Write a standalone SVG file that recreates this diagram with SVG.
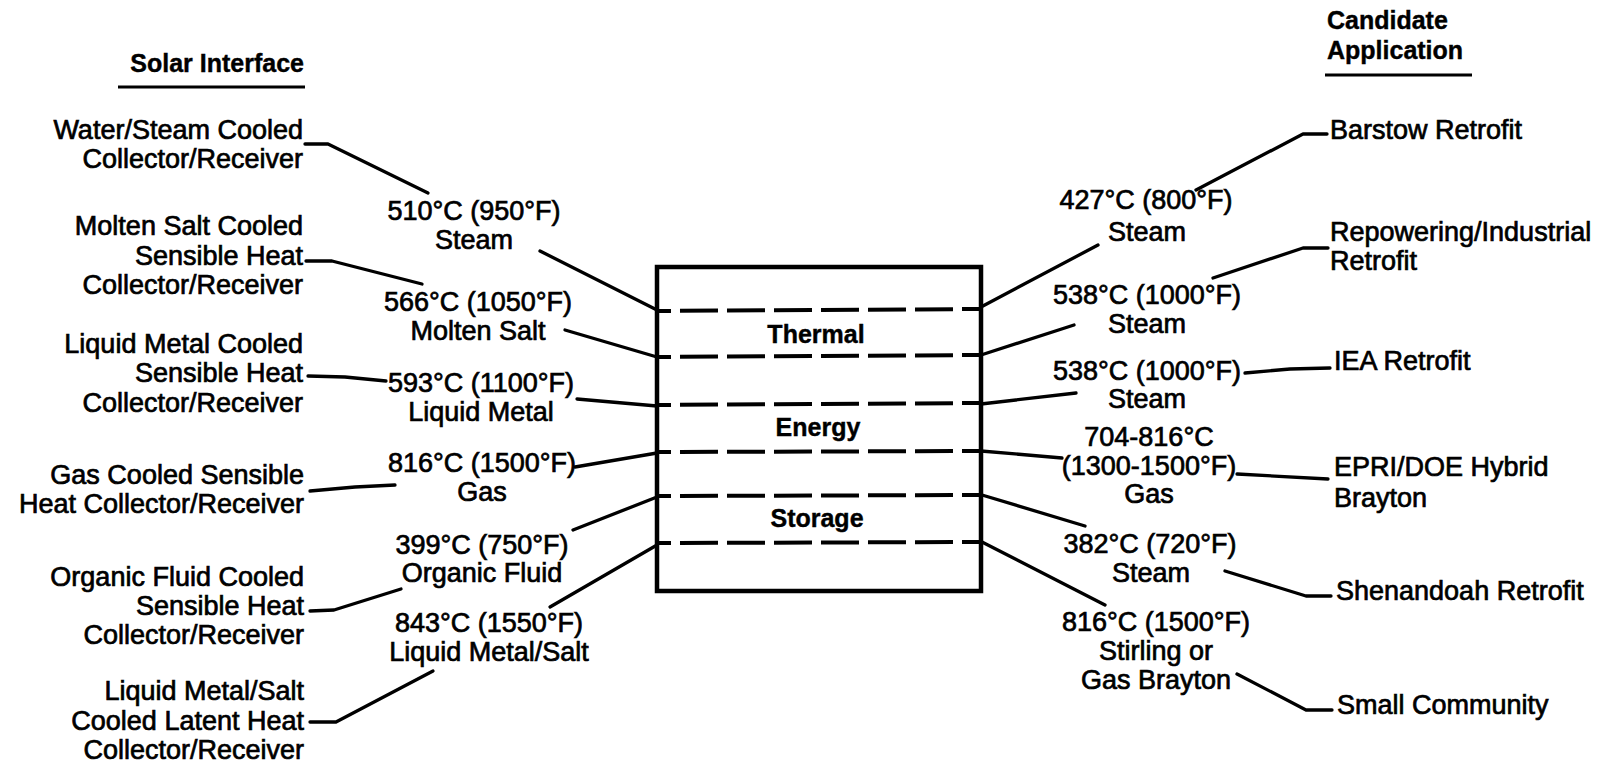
<svg xmlns="http://www.w3.org/2000/svg" width="1609" height="764" viewBox="0 0 1609 764">
<style>
text{font-family:"Liberation Sans",Arial,Helvetica,sans-serif;fill:#000}
.t{font-size:27px;stroke:#000;stroke-width:0.7}
.h{font-size:25px;font-weight:bold;stroke:#000;stroke-width:0.4}
.e{text-anchor:end}
.m{text-anchor:middle}
.conn{fill:none;stroke:#000;stroke-width:3.3;stroke-linejoin:round;stroke-linecap:round}
.ul{stroke:#000;stroke-width:3}
.dash{stroke:#000;stroke-width:4;stroke-dasharray:38 9}
.box{fill:none;stroke:#000;stroke-width:4.5}
</style>
<rect width="1609" height="764" fill="#fff"/>

<!-- Headings -->
<g id="hdr-solar">
<text class="h e" x="304" y="72">Solar Interface</text>
<line class="ul" x1="118" y1="87" x2="305" y2="87"/>
</g>
<g id="hdr-app">
<text class="h" x="1327" y="29">Candidate</text>
<text class="h" x="1327" y="59">Application</text>
<line class="ul" x1="1325" y1="75" x2="1472" y2="75"/>
</g>

<!-- Left: solar interfaces -->
<g id="si-water">
<text class="t e" x="303" y="139">Water/Steam Cooled</text>
<text class="t e" x="303" y="168">Collector/Receiver</text>
</g>
<g id="si-moltensalt">
<text class="t e" x="303" y="235">Molten Salt Cooled</text>
<text class="t e" x="303" y="265">Sensible Heat</text>
<text class="t e" x="303" y="294">Collector/Receiver</text>
</g>
<g id="si-liquidmetal">
<text class="t e" x="303" y="353">Liquid Metal Cooled</text>
<text class="t e" x="303" y="382">Sensible Heat</text>
<text class="t e" x="303" y="412">Collector/Receiver</text>
</g>
<g id="si-gas">
<text class="t e" x="304" y="484">Gas Cooled Sensible</text>
<text class="t e" x="304" y="513">Heat Collector/Receiver</text>
</g>
<g id="si-organic">
<text class="t e" x="304" y="586">Organic Fluid Cooled</text>
<text class="t e" x="304" y="615">Sensible Heat</text>
<text class="t e" x="304" y="644">Collector/Receiver</text>
</g>
<g id="si-latent">
<text class="t e" x="304" y="700">Liquid Metal/Salt</text>
<text class="t e" x="304" y="730">Cooled Latent Heat</text>
<text class="t e" x="304" y="759">Collector/Receiver</text>
</g>

<!-- Left middle: temperatures -->
<g id="tl-1">
<text class="t m" x="474" y="220">510°C (950°F)</text>
<text class="t m" x="474" y="249">Steam</text>
</g>
<g id="tl-2">
<text class="t m" x="478" y="311">566°C (1050°F)</text>
<text class="t m" x="478" y="340">Molten Salt</text>
</g>
<g id="tl-3">
<text class="t m" x="481" y="392">593°C (1100°F)</text>
<text class="t m" x="481" y="421">Liquid Metal</text>
</g>
<g id="tl-4">
<text class="t m" x="482" y="472">816°C (1500°F)</text>
<text class="t m" x="482" y="501">Gas</text>
</g>
<g id="tl-5">
<text class="t m" x="482" y="554">399°C (750°F)</text>
<text class="t m" x="482" y="582">Organic Fluid</text>
</g>
<g id="tl-6">
<text class="t m" x="489" y="632">843°C (1550°F)</text>
<text class="t m" x="489" y="661">Liquid Metal/Salt</text>
</g>

<!-- Central storage box -->
<g id="storage-box">
<rect class="box" x="657" y="267" width="324" height="324"/>
<line class="dash" x1="657" y1="311" x2="981" y2="309" stroke-dashoffset="24"/>
<line class="dash" x1="657" y1="357" x2="981" y2="355" stroke-dashoffset="24"/>
<line class="dash" x1="657" y1="405" x2="981" y2="403" stroke-dashoffset="24"/>
<line class="dash" x1="657" y1="452" x2="981" y2="451" stroke-dashoffset="24"/>
<line class="dash" x1="657" y1="496" x2="981" y2="495" stroke-dashoffset="24"/>
<line class="dash" x1="657" y1="543" x2="981" y2="542" stroke-dashoffset="24"/>
<text class="h m" x="816" y="343">Thermal</text>
<text class="h m" x="818" y="436">Energy</text>
<text class="h m" x="817" y="527">Storage</text>
</g>

<!-- Right middle: temperatures -->
<g id="tr-1">
<text class="t m" x="1146" y="209">427°C (800°F)</text>
<text class="t m" x="1147" y="241">Steam</text>
</g>
<g id="tr-2">
<text class="t m" x="1147" y="304">538°C (1000°F)</text>
<text class="t m" x="1147" y="333">Steam</text>
</g>
<g id="tr-3">
<text class="t m" x="1147" y="380">538°C (1000°F)</text>
<text class="t m" x="1147" y="408">Steam</text>
</g>
<g id="tr-4">
<text class="t m" x="1149" y="446">704-816°C</text>
<text class="t m" x="1149" y="475">(1300-1500°F)</text>
<text class="t m" x="1149" y="503">Gas</text>
</g>
<g id="tr-5">
<text class="t m" x="1150" y="553">382°C (720°F)</text>
<text class="t m" x="1151" y="582">Steam</text>
</g>
<g id="tr-6">
<text class="t m" x="1156" y="631">816°C (1500°F)</text>
<text class="t m" x="1156" y="660">Stirling or</text>
<text class="t m" x="1156" y="689">Gas Brayton</text>
</g>

<!-- Right: candidate applications -->
<g id="app-barstow"><text class="t" x="1330" y="139">Barstow Retrofit</text></g>
<g id="app-repowering">
<text class="t" x="1330" y="241">Repowering/Industrial</text>
<text class="t" x="1330" y="270">Retrofit</text>
</g>
<g id="app-iea"><text class="t" x="1334" y="370">IEA Retrofit</text></g>
<g id="app-epri">
<text class="t" x="1334" y="476">EPRI/DOE Hybrid</text>
<text class="t" x="1334" y="507">Brayton</text>
</g>
<g id="app-shenandoah"><text class="t" x="1336" y="600">Shenandoah Retrofit</text></g>
<g id="app-community"><text class="t" x="1337" y="714">Small Community</text></g>

<!-- Connectors -->
<g id="connectors">
<polyline class="conn" points="305,144 328,144 428,193"/>
<polyline class="conn" points="540,251 657,310"/>
<polyline class="conn" points="306,261 332,261 422,284"/>
<polyline class="conn" points="565,330 657,357"/>
<polyline class="conn" points="308,376 345,377 386,381"/>
<polyline class="conn" points="577,399 657,406"/>
<polyline class="conn" points="575,467 657,453"/>
<polyline class="conn" points="310,491 355,487 395,485"/>
<polyline class="conn" points="573,530 657,497"/>
<polyline class="conn" points="310,611 334,610 401,589"/>
<polyline class="conn" points="550,607 657,545"/>
<polyline class="conn" points="310,722 336,722 433,671"/>

<polyline class="conn" points="981,307 1098,245"/>
<polyline class="conn" points="1196,190 1303,134 1327,134"/>
<polyline class="conn" points="981,355 1074,325"/>
<polyline class="conn" points="1213,278 1303,248 1328,248"/>
<polyline class="conn" points="981,404 1076,393"/>
<polyline class="conn" points="1245,373 1290,369 1330,368"/>
<polyline class="conn" points="981,451 1062,458"/>
<polyline class="conn" points="1237,474 1328,479"/>
<polyline class="conn" points="982,495 1085,526"/>
<polyline class="conn" points="982,542 1105,605"/>
<polyline class="conn" points="1225,571 1306,596 1331,596"/>
<polyline class="conn" points="1237,674 1306,710 1332,710"/>
</g>
</svg>
